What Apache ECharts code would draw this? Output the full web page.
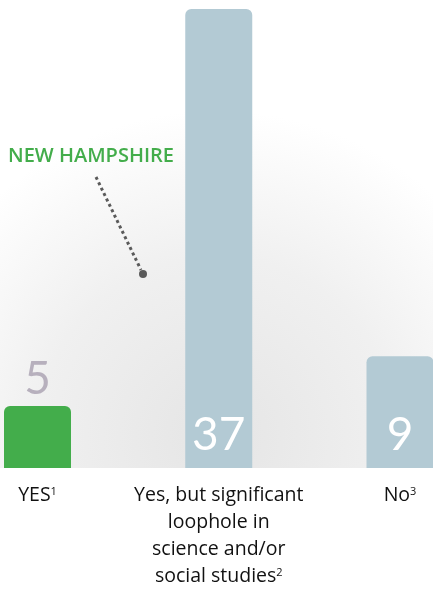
<!DOCTYPE html>
<html><head><meta charset="utf-8">
<script src="https://cdn.jsdelivr.net/npm/echarts@6/dist/echarts.min.js"></script>
<style>html,body{margin:0;padding:0;background:#fff}#c{width:433px;height:592px}</style>
</head><body><div id="c"></div>
<script>
const categories = ["YES{sup|1}", "Yes, but significant\nloophole in\nscience and/or\nsocial studies{sup|2}", "No{sup|3}"];
const values = [5, 37, 9];
const barColors = ["#43ad4b", "#b3cad4", "#b3cad4"];
const annotationText = "NEW HAMPSHIRE";

const chart = echarts.init(document.getElementById('c'), null, {renderer: 'canvas'});
const data = values.map((v, i) => ({
  value: v,
  itemStyle: {color: barColors[i]},
  label: i === 0
    ? {position: 'top', distance: 4, color: '#b7b0bd'}
    : {position: 'insideBottom', distance: 10, color: '#ffffff'}
}));
chart.setOption({
  animation: false,
  backgroundColor: '#ffffff',
  grid: {left: 37.5, right: 33, top: 9, bottom: 124},
  xAxis: {
    type: 'category', data: categories, boundaryGap: false,
    axisLine: {show: false}, axisTick: {show: false},
    axisLabel: {
      margin: 14, interval: 0, color: '#111111', fontSize: 19.5, lineHeight: 27,
      fontFamily: 'Open Sans', align: 'center',
      rich: {sup: {fontSize: 11, lineHeight: 27, fontFamily: 'Open Sans', color: '#111111', padding: [0, 0, 8, 0]}}
    }
  },
  yAxis: {type: 'value', min: 0, max: 37, show: false, splitLine: {show: false}},
  graphic: [
    {type: 'rect', z: -10, silent: true, shape: {x: 0, y: 0, width: 433, height: 468},
     style: {fill: new echarts.graphic.RadialGradient(0.5, 0.93, 0.75, [
       {offset: 0, color: '#e5e5e5'}, {offset: 0.55, color: '#f0f0f0'}, {offset: 1, color: '#ffffff'}])}},
    {type: 'text', left: 8, top: 146, style: {text: annotationText, fill: '#43ad4b', font: '600 20px "Open Sans"'}},
    {type: 'line', shape: {x1: 96, y1: 177, x2: 141, y2: 270}, style: {stroke: '#5a5a5a', lineWidth: 3, lineDash: [3, 3]}},
    {type: 'circle', shape: {cx: 143, cy: 274, r: 4}, style: {fill: '#5a5a5a'}}
  ],
  series: [{
    type: 'bar', data: data, barWidth: 67,
    itemStyle: {borderRadius: [6, 6, 0, 0]},
    label: {show: true, fontSize: 46, fontFamily: 'Lato', fontWeight: 'normal', lineHeight: 46}
  }]
});
</script></body></html>
